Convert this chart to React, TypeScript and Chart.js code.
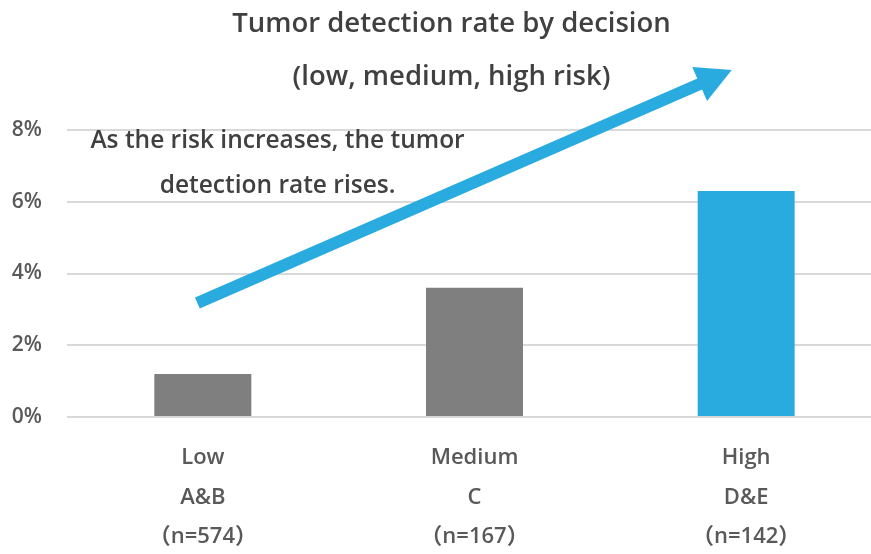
import { useEffect, useRef } from 'react';
import { Chart, registerables } from 'chart.js';

Chart.register(...registerables);

// ---- data ----
const categories = [
  ['Low', 'A&B', '（n=574）'],
  ['Medium', 'C', '（n=167）'],
  ['High', 'D&E', '（n=142）'],
];
const detectionRate = [1.2, 3.6, 6.3];
const barColors = ['#7F7F7F', '#7F7F7F', '#29ABE0'];
const yMin = 0;
const yMax = 8;
const yStep = 2;
const titleLines = ['Tumor detection rate by decision', '(low, medium, high risk)'];
const noteLines = ['As the risk increases, the tumor', 'detection rate rises.'];
// annotation anchors in data units: [category index, percent]
const noteAnchor = [0.275, 7.7];
const arrowFrom = [-0.02, 3.18];
const arrowTo = [1.947, 9.67];

const FONT = '"Open Sans", "Noto Sans CJK SC", sans-serif';
const CANVAS_W = 903;
const CANVAS_H = 554;

const annotationPlugin = {
  id: 'annotations',
  afterDraw(chart: any) {
    const { ctx, scales } = chart;
    const x = scales.x;
    const y = scales.y;
    ctx.save();

    // title
    ctx.font = `600 27.5px ${FONT}`;
    ctx.fillStyle = '#404040';
    ctx.textAlign = 'center';
    ctx.textBaseline = 'middle';
    titleLines.forEach((line, i) => {
      ctx.fillText(line, chart.width / 2, 24 + i * 53);
    });

    // arrow
    const x0 = x.getPixelForValue(arrowFrom[0]);
    const y0 = y.getPixelForValue(arrowFrom[1]);
    const x1 = x.getPixelForValue(arrowTo[0]);
    const y1 = y.getPixelForValue(arrowTo[1]);
    const dx = x1 - x0;
    const dy = y1 - y0;
    const len = Math.hypot(dx, dy);
    const ux = dx / len;
    const uy = dy / len;
    const px = -uy;
    const py = ux;
    const headLen = 35;
    const headHalf = 18.5;
    const color = '#29ABE0';
    ctx.strokeStyle = color;
    ctx.fillStyle = color;
    ctx.lineWidth = 12;
    ctx.lineCap = 'butt';
    ctx.beginPath();
    ctx.moveTo(x0, y0);
    ctx.lineTo(x1 - ux * (headLen - 2), y1 - uy * (headLen - 2));
    ctx.stroke();
    const bx = x1 - ux * headLen;
    const by = y1 - uy * headLen;
    ctx.beginPath();
    ctx.moveTo(x1, y1);
    ctx.lineTo(bx + px * headHalf, by + py * headHalf);
    ctx.lineTo(bx - px * headHalf, by - py * headHalf);
    ctx.closePath();
    ctx.fill();

    // note text
    ctx.font = `600 24.5px ${FONT}`;
    ctx.fillStyle = '#404040';
    const nx = x.getPixelForValue(noteAnchor[0]);
    const ny = y.getPixelForValue(noteAnchor[1]);
    noteLines.forEach((line, i) => {
      ctx.fillText(line, nx, ny + i * 45);
    });
    ctx.restore();
  },
};

export default function App() {
  const ref = useRef<HTMLCanvasElement | null>(null);

  useEffect(() => {
    if (!ref.current) return;
    Chart.defaults.font.family = FONT;
    const chart = new Chart(ref.current, {
      type: 'bar',
      data: {
        labels: categories,
        datasets: [
          {
            data: detectionRate,
            backgroundColor: barColors,
            borderWidth: 0,
            categoryPercentage: 1,
            barPercentage: 0.357,
          },
        ],
      },
      options: {
        responsive: false,
        animation: false,
        devicePixelRatio: 1,
        layout: { padding: { left: 0, right: 21, top: 130, bottom: 0 } },
        plugins: {
          legend: { display: false },
          tooltip: { enabled: false },
          title: { display: false },
        },
        scales: {
          x: {
            grid: { display: false, drawTicks: false },
            border: { display: false },
            ticks: {
              color: '#595959',
              font: { size: 22, weight: 600, lineHeight: 39.5 / 22 },
              padding: 21,
              maxRotation: 0,
              autoSkip: false,
            },
            afterFit: (s: any) => {
              s.height = 137;
            },
          },
          y: {
            min: yMin,
            max: yMax,
            grid: { color: '#D9D9D9', lineWidth: 2, drawTicks: false },
            border: { display: false },
            ticks: {
              stepSize: yStep,
              color: '#595959',
              font: { size: 21, weight: 600 },
              padding: 25,
              callback: (v: any) => `${v}%`,
            },
            afterFit: (s: any) => {
              s.width = 67;
            },
          },
        },
      },
      plugins: [annotationPlugin],
    });
    return () => chart.destroy();
  }, []);

  return (
    <div
      style={{
        position: 'fixed',
        left: 0,
        top: 0,
        width: 871,
        height: 554,
        overflow: 'hidden',
        background: '#ffffff',
      }}
    >
      <canvas
        ref={ref}
        width={CANVAS_W}
        height={CANVAS_H}
        style={{ display: 'block', width: CANVAS_W, height: CANVAS_H }}
      />
    </div>
  );
}
